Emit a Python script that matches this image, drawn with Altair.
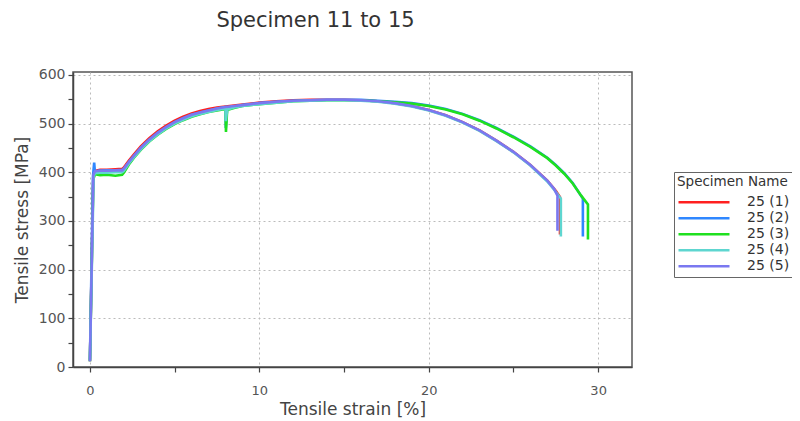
import altair as alt
import pandas as pd

# ---- data ----
specimens = ["25 (1)", "25 (2)", "25 (3)", "25 (4)", "25 (5)"]
colors = ["#ff2020", "#2f87ff", "#1fe01f", "#5ed6d0", "#7a78f0"]

hard_strain = [2.3, 2.6, 3.0, 3.5, 4.0, 4.5, 5.0, 5.5, 6.0, 6.5, 7.0, 7.5, 8.0]
neck_strain = [10, 11, 12, 13, 14, 15, 16, 17, 18, 19, 20, 21, 22, 23, 24, 25, 26, 27]

strain_1 = [0.0, 0.2, 0.3, 0.6, 1.0, 1.5, 1.9, 2.0] + hard_strain + [8.5, 9.0] + neck_strain + [27.5, 27.75, 27.75]
stress_1 = [12, 395, 403, 405, 405, 406, 407, 410,
            424, 437, 453, 470, 484, 496, 506, 514, 521, 526, 530, 533, 535,
            537, 539,
            543, 546, 548, 549, 549, 549, 548, 546, 542, 536, 528, 517, 503, 486, 465, 442, 415, 383,
            362, 349, 272]

strain_2 = [0.0, 0.18, 0.25, 0.3, 0.5, 1.0, 1.5, 1.9, 2.0] + hard_strain + [8.02, 8.1, 8.5, 9.0] + neck_strain + [27.5, 28.0, 28.5, 29.1, 29.1]
stress_2 = [15, 392, 420, 398, 403, 404, 404, 405, 407,
            421, 434, 450, 467, 481, 493, 503, 511, 518, 523, 527, 531, 534,
            491, 531, 535, 538,
            542, 545, 547, 548, 549, 549, 549, 547, 545, 542, 537, 530, 520, 507, 491, 473, 453, 430,
            415, 398, 378, 346, 268]

strain_3 = [0.0, 0.2, 0.3, 0.6, 1.0, 1.5, 1.9, 2.0] + hard_strain + [8.03, 8.1, 8.5, 9.0] + neck_strain + [27.5, 28.0, 28.5, 29.0, 29.4, 29.4]
stress_3 = [12, 386, 396, 394, 395, 393, 395, 399,
            416, 430, 446, 463, 477, 489, 499, 507, 514, 519, 524, 527, 530,
            483, 528, 532, 536,
            540, 543, 546, 547, 548, 548, 548, 546, 544, 541, 536, 529, 519, 506, 490, 472, 452, 429,
            414, 397, 377, 352, 334, 262]

strain_4 = [0.0, 0.22, 0.3, 0.6, 1.0, 1.5, 1.9, 2.0] + hard_strain + [8.02, 8.1, 8.5, 9.0] + neck_strain + [27.5, 27.8, 27.8]
stress_4 = [12, 392, 398, 399, 399, 400, 400, 403,
            418, 431, 447, 464, 478, 490, 500, 508, 515, 520, 524, 528, 531,
            505, 529, 533, 536,
            540, 543, 546, 547, 548, 548, 547, 545, 541, 535, 527, 516, 502, 485, 464, 441, 414, 381,
            360, 346, 268]

strain_5 = [0.0, 0.2, 0.3, 0.6, 1.0, 1.5, 1.9, 2.0] + hard_strain + [8.5, 9.0] + neck_strain + [27.4, 27.6, 27.6]
stress_5 = [12, 395, 402, 403, 403, 404, 404, 407,
            421, 434, 450, 467, 481, 493, 503, 511, 518, 523, 527, 531, 534,
            536, 538,
            542, 545, 547, 548, 549, 549, 548, 546, 542, 536, 528, 517, 503, 486, 465, 442, 415, 383,
            366, 352, 280]

strains = [strain_1, strain_2, strain_3, strain_4, strain_5]
stresses = [stress_1, stress_2, stress_3, stress_4, stress_5]

rows = []
for name, xs, ys in zip(specimens, strains, stresses):
    if len(xs) != len(ys):
        raise ValueError(f"{name}: {len(xs)} vs {len(ys)}")
    for i, (sx, sy) in enumerate(zip(xs, ys)):
        rows.append({"Specimen": name, "strain": sx, "stress": sy, "idx": i})
df = pd.DataFrame(rows)

FONT = "DejaVu Sans"

x_axis = alt.Axis(
    title="Tensile strain [%]",
    values=[0, 5, 10, 15, 20, 25, 30],
    labelExpr="datum.value % 10 === 0 ? datum.label : ''",
    gridOpacity={"condition": {"test": "datum.value % 10 === 0", "value": 1}, "value": 0},
    tickSize=5, labelPadding=12, labelFontSize=13,
    titleFontSize=17, titleFontWeight="normal", titleY=47, titleBaseline="alphabetic",
)
y_axis = alt.Axis(
    title="Tensile stress [MPa]",
    values=list(range(0, 601, 50)),
    labelExpr="datum.value % 100 === 0 ? datum.label : ''",
    gridOpacity={"condition": {"test": "datum.value % 100 === 0", "value": 1}, "value": 0},
    tickSize=5, labelPadding=3, labelFontSize=14,
    titleFontSize=17, titleFontWeight="normal", titleX=-46, titleBaseline="alphabetic",
)

chart = alt.Chart(df).mark_line(strokeWidth=2.6, clip=True).encode(
    x=alt.X("strain:Q", scale=alt.Scale(domain=[-1, 32], nice=False, zero=False), axis=x_axis),
    y=alt.Y("stress:Q", scale=alt.Scale(domain=[0, 606], nice=False), axis=y_axis),
    color=alt.Color(
        "Specimen:N",
        scale=alt.Scale(domain=specimens, range=colors),
        legend=alt.Legend(
            title="Specimen Name", orient="none", legendX=601, legendY=100,
            symbolType="stroke", symbolSize=2600, symbolStrokeWidth=2.5,
            clipHeight=15.5, rowPadding=0, labelOffset=16, padding=3,
            titlePadding=6, strokeColor="#666", fillColor="white",
            labelFontSize=14, titleFontSize=13.5, titleFontWeight="normal",
            labelColor="#333", titleColor="#333", labelFont=FONT, titleFont=FONT,
        ),
    ),
    order=alt.Order("idx:Q"),
    detail="Specimen:N",
).properties(
    width=559, height=295,
    padding={"left": 65, "top": 64, "right": 160, "bottom": 52},
    autosize=alt.AutoSizeParams(type="none"),
    title=alt.TitleParams(
        "Specimen 11 to 15", fontSize=21, font=FONT, fontWeight="normal",
        color="#333", anchor="middle", frame="group", dx=-37, offset=20,
        baseline="alphabetic",
    ),
).configure_view(
    stroke="#555", strokeWidth=1.5
).configure_axis(
    domainColor="#444", domainWidth=1.5, tickColor="#444", tickWidth=1.2,
    labelColor="#555", titleColor="#444", labelFont=FONT, titleFont=FONT,
    gridColor="#bbbbbb", gridDash=[2, 3], gridWidth=1,
)

chart.save("out.html", embed_options={"renderer": "svg", "actions": False})
